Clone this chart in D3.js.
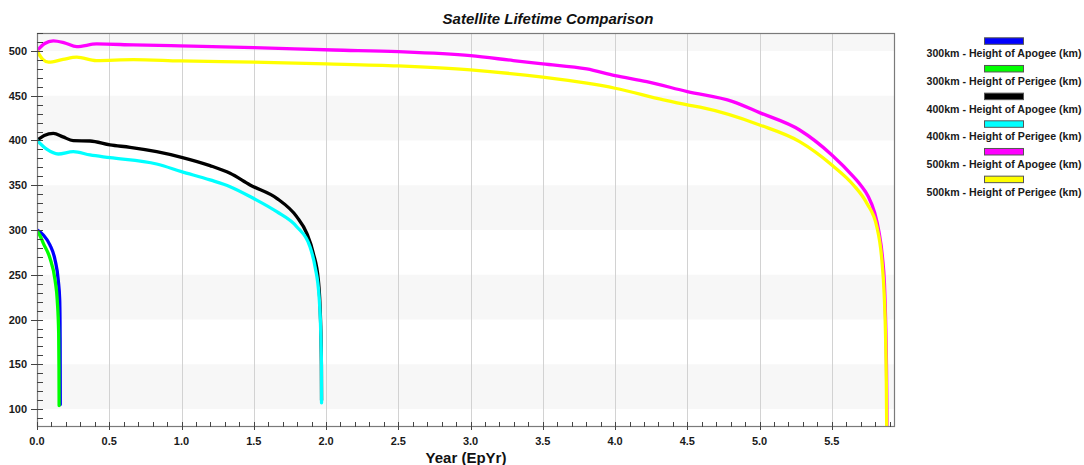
<!DOCTYPE html>
<html>
<head>
<meta charset="utf-8">
<script src="https://cdn.jsdelivr.net/npm/d3@7"></script>
<style>
  html, body { margin: 0; padding: 0; background: #ffffff; }
  svg { display: block; font-family: "Liberation Sans", Arial, sans-serif; }
</style>
</head>
<body>
<svg id="chart" width="1084" height="465"></svg>
<script>
// ---------- DATA ----------
const chartTitle = "Satellite Lifetime Comparison";
const xAxisTitle = "Year (EpYr)";
const seriesNames = [
  "300km - Height of Apogee (km)",
  "300km - Height of Perigee (km)",
  "400km - Height of Apogee (km)",
  "400km - Height of Perigee (km)",
  "500km - Height of Apogee (km)",
  "500km - Height of Perigee (km)"
];
const xTickValues = [0, 0.5, 1.0, 1.5, 2.0, 2.5, 3.0, 3.5, 4.0, 4.5, 5.0, 5.5];
const yTickValues = [100, 150, 200, 250, 300, 350, 400, 450, 500];

const apo300Years  = [0, 0.044, 0.09, 0.125, 0.147, 0.157, 0.160, 0.161];
const apo300Km     = [300, 294.4, 283.2, 266.5, 244, 222, 180, 105];
const peri300Years = [0, 0.02, 0.044, 0.09, 0.125, 0.14, 0.15, 0.152, 0.153];
const peri300Km    = [299, 294, 285, 268.4, 244, 221.8, 184.6, 147, 104];

const apo400Years  = [0, 0.05, 0.113, 0.18, 0.25, 0.367, 0.505, 0.644, 0.828, 1.0, 1.197, 1.336, 1.474, 1.659, 1.797, 1.867, 1.912, 1.947, 1.962, 1.968, 1.969];
const apo400Km     = [400, 405.5, 408, 404, 399.8, 399.4, 395, 392.4, 387.5, 381.2, 371.9, 363.3, 350.3, 335.4, 314.9, 296.3, 274, 244, 200, 150, 110];
const peri400Years = [0, 0.067, 0.147, 0.251, 0.367, 0.505, 0.828, 1.0, 1.197, 1.336, 1.497, 1.659, 1.797, 1.889, 1.924, 1.952, 1.963, 1.968, 1.969];
const peri400Km    = [400, 390.2, 384.9, 387.5, 383.8, 380.8, 373.7, 365.2, 355.9, 348.4, 335.4, 320.4, 303.7, 281.4, 259, 225.5, 188.3, 151, 107];

const apo500Years  = [0, 0.05, 0.113, 0.19, 0.275, 0.413, 0.667, 0.99, 1.5, 2.05, 2.5, 3.0, 3.296, 3.5, 3.804, 4.0, 4.219, 4.5, 4.815, 5.0, 5.277, 5.5, 5.649, 5.70, 5.75, 5.795, 5.826, 5.850, 5.864, 5.872, 5.878, 5.881, 5.882];
const apo500Km     = [500, 508, 511.2, 509, 504.8, 507.8, 506.7, 505.6, 503.7, 501, 499.2, 494.7, 489.2, 485.5, 479.9, 472.4, 465.7, 454.5, 443.4, 431.1, 411.7, 383.8, 359.6, 350, 338, 320, 298, 270, 240, 200, 150, 100, 70];
const peri500Years = [0, 0.04, 0.08, 0.18, 0.275, 0.41, 0.667, 0.99, 1.5, 2.0, 2.5, 3.0, 3.5, 3.804, 4.0, 4.335, 4.5, 4.588, 5.0, 5.277, 5.5, 5.649, 5.742, 5.811, 5.846, 5.862, 5.872, 5.877, 5.880];
const peri500Km    = [500, 490.5, 487.4, 490.5, 493, 489.2, 490.3, 488.8, 487.4, 485.5, 483.2, 478.8, 470.6, 463.9, 458.3, 445.3, 439.7, 437.1, 417.3, 398.7, 372.6, 350.3, 329.8, 303.7, 266.5, 229, 180, 130, 70];

const seriesYears = [apo300Years, peri300Years, apo400Years, peri400Years, apo500Years, peri500Years];
const seriesKm    = [apo300Km, peri300Km, apo400Km, peri400Km, apo500Km, peri500Km];
const seriesColors = ["#0000ff", "#00ff00", "#000000", "#00ffff", "#ff00ff", "#ffff00"];

// ---------- LAYOUT ----------
const plot = { left: 37, right: 895, top: 33, bottom: 427 };
const svg = d3.select("#chart");

const x = d3.scaleLinear().domain([0, 5.937]).range([plot.left, plot.right]);
const y = d3.scaleLinear().domain([80, 520]).range([plot.bottom, plot.top]);

// background bands
const bands = [[100,150],[200,250],[300,350],[400,450],[500,520]];
svg.append("g").selectAll("rect").data(bands).join("rect")
  .attr("x", plot.left).attr("width", plot.right - plot.left)
  .attr("y", d => y(d[1])).attr("height", d => y(d[0]) - y(d[1]))
  .attr("fill", "#f7f7f7");

// vertical grid lines
svg.append("g").selectAll("line").data(xTickValues.filter(v => v > 0)).join("line")
  .attr("x1", d => Math.round(x(d)) + 0.5).attr("x2", d => Math.round(x(d)) + 0.5)
  .attr("y1", plot.top).attr("y2", plot.bottom)
  .attr("stroke", "#d2d2d2").attr("stroke-width", 1);

// clip
svg.append("defs").append("clipPath").attr("id", "clip")
  .append("rect").attr("x", plot.left).attr("y", plot.top)
  .attr("width", plot.right - plot.left).attr("height", plot.bottom - plot.top);

// lines
const line = d3.line()
  .x(d => x(d[0])).y(d => y(d[1]))
  .curve(d3.curveMonotoneX);

const gLines = svg.append("g").attr("clip-path", "url(#clip)");
seriesYears.forEach((yrs, i) => {
  const pts = yrs.map((t, j) => [t, seriesKm[i][j]]);
  gLines.append("path")
    .attr("d", line(pts))
    .attr("fill", "none")
    .attr("stroke", seriesColors[i])
    .attr("stroke-width", 3.3)
    .attr("stroke-linejoin", "round")
    .attr("stroke-linecap", "round");
});

// border
svg.append("rect")
  .attr("x", plot.left + 0.5).attr("y", plot.top + 0.5)
  .attr("width", plot.right - plot.left - 1).attr("height", plot.bottom - plot.top - 1)
  .attr("fill", "none").attr("stroke", "#7a7a7a").attr("stroke-width", 1.2);

// y axis ticks
const yMinor = d3.range(90, 521, 10);
const yAxisG = svg.append("g");
yAxisG.selectAll("line.minor").data(yMinor).join("line")
  .attr("x1", plot.left).attr("x2", plot.left + 6)
  .attr("y1", d => Math.round(y(d)) + 0.5).attr("y2", d => Math.round(y(d)) + 0.5)
  .attr("stroke", "#444").attr("stroke-width", 1);
yAxisG.selectAll("line.major").data(yTickValues).join("line")
  .attr("x1", plot.left - 6).attr("x2", plot.left + 6)
  .attr("y1", d => Math.round(y(d)) + 0.5).attr("y2", d => Math.round(y(d)) + 0.5)
  .attr("stroke", "#444").attr("stroke-width", 1);
yAxisG.selectAll("text").data(yTickValues).join("text")
  .attr("x", 27).attr("y", d => y(d) + 4)
  .attr("text-anchor", "end")
  .attr("font-size", "11px").attr("font-weight", "bold").attr("fill", "#1a1a1a")
  .text(d => d);

// x axis ticks
const xMinor = d3.range(1, 60).map(i => i / 10);
const xAxisG = svg.append("g");
xAxisG.selectAll("line.minor").data(xMinor).join("line")
  .attr("x1", d => Math.round(x(d)) + 0.5).attr("x2", d => Math.round(x(d)) + 0.5)
  .attr("y1", plot.bottom - 5).attr("y2", plot.bottom)
  .attr("stroke", "#444").attr("stroke-width", 1);
xAxisG.selectAll("line.major").data(xTickValues).join("line")
  .attr("x1", d => Math.round(x(d)) + 0.5).attr("x2", d => Math.round(x(d)) + 0.5)
  .attr("y1", plot.bottom - 5).attr("y2", plot.bottom + 3)
  .attr("stroke", "#444").attr("stroke-width", 1);
xAxisG.selectAll("text").data(xTickValues).join("text")
  .attr("x", d => x(d)).attr("y", 445)
  .attr("text-anchor", "middle")
  .attr("font-size", "11px").attr("font-weight", "bold").attr("fill", "#1a1a1a")
  .text(d => d3.format(".1f")(d));

// axis title
svg.append("text")
  .attr("x", (plot.left + plot.right) / 2).attr("y", 463)
  .attr("text-anchor", "middle")
  .attr("font-size", "15px").attr("font-weight", "bold").attr("fill", "#111")
  .text(xAxisTitle);

// chart title
svg.append("text")
  .attr("x", 548).attr("y", 24)
  .attr("text-anchor", "middle")
  .attr("font-size", "15px").attr("font-weight", "bold").attr("font-style", "italic").attr("fill", "#111")
  .text(chartTitle);

// legend
const legend = svg.append("g");
seriesNames.forEach((name, i) => {
  const top = 37.3 + i * 27.67;
  legend.append("rect")
    .attr("x", 984.5).attr("y", top + 0.5)
    .attr("width", 39).attr("height", 6.5)
    .attr("fill", seriesColors[i])
    .attr("stroke", "#555").attr("stroke-width", 1);
  legend.append("text")
    .attr("x", 1004).attr("y", top + 20)
    .attr("text-anchor", "middle")
    .attr("font-size", "10.6px").attr("font-weight", "bold").attr("fill", "#1a1a1a")
    .text(name);
});
</script>
</body>
</html>
